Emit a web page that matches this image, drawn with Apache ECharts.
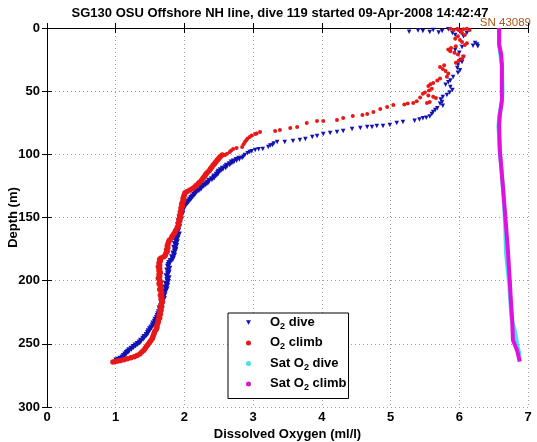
<!DOCTYPE html>
<html>
<head>
<meta charset="utf-8">
<script src="https://cdn.jsdelivr.net/npm/echarts@6/dist/echarts.min.js"></script>
<style>
html,body{margin:0;padding:0;background:#fff;}
#chart{width:537px;height:442px;}
</style>
</head>
<body>
<div id="chart"></div>
<script>
// ---------- data: [O2 (ml/l), depth (m)] ----------
var titleText = 'SG130 OSU Offshore NH line, dive 119 started 09-Apr-2008 14:42:47';
var serialText = 'SN 43089';
var xTicks = [0, 1, 2, 3, 4, 5, 6, 7];
var yTicks = [0, 50, 100, 150, 200, 250, 300];
var seriesNames = ['O2 dive', 'O2 climb', 'Sat O2 dive', 'Sat O2 climb'];

var o2DiveUpper = [[5.27,3.0],[5.40,2.0],[5.47,2.4],[5.57,3.2],[5.62,1.6],[5.70,3.5],[5.75,2.4],[5.84,1.0],[5.90,4.0],[5.94,5.5],[5.98,1.6],[6.01,3.0],[6.11,4.0],[6.06,6.5],[6.23,11.9],[6.26,13.0],[6.27,14.5],[6.20,14.0],[6.04,15.0],[5.94,17.4],[6.00,19.5],[6.06,23.0],[6.02,25.3],[6.04,26.9],[5.98,29.0],[5.97,31.7],[6.01,33.5],[5.98,35.5],[5.91,38.8],[5.87,41.5],[5.84,43.0],[5.80,45.0],[5.87,46.7],[5.90,49.0],[5.86,51.0],[5.82,53.0],[5.76,54.6],[5.73,56.5],[5.75,58.6],[5.72,60.0],[5.76,61.5],[5.68,63.5],[5.65,65.0],[5.62,66.5],[5.60,68.0],[5.57,70.0],[5.52,71.0],[5.47,71.5],[5.42,72.5],[5.35,73.5]];
var o2DiveGradient = [[5.18,74.4],[5.09,75.2],[4.99,76.8],[4.89,77.6],[4.80,77.6],[4.73,78.4],[4.66,78.4],[4.56,79.2],[4.44,80.0],[4.31,81.6],[4.22,82.3],[4.12,83.1],[4.02,83.9],[3.93,85.5],[3.86,86.3],[3.76,87.9],[3.68,88.7],[3.58,89.5],[3.46,90.3],[3.35,90.3],[3.30,91.5],[3.28,92.6],[3.25,93.0],[3.22,94.2],[3.14,95.8],[3.08,96.0],[3.03,96.6],[2.98,97.5],[2.95,98.2],[2.92,99.2],[2.88,100.6],[2.86,101.8],[2.84,102.9]];
var o2DiveDeep = [[2.80,103.5],[2.76,104.5],[2.72,105.6],[2.69,106.5],[2.66,107.8],[2.62,109.0],[2.60,110.2],[2.56,111.5],[2.53,112.6],[2.50,113.8],[2.49,115.0],[2.47,116.2],[2.44,117.5],[2.43,118.6],[2.40,119.8],[2.36,121.0],[2.34,122.4],[2.31,123.6],[2.28,124.8],[2.25,126.0],[2.24,127.2],[2.21,128.4],[2.18,129.5],[2.16,130.8],[2.14,132.0],[2.12,133.4],[2.10,134.6],[2.08,136.0],[2.06,137.3],[2.04,138.6],[2.02,140.0],[2.00,141.3],[1.99,142.7],[1.98,144.0],[1.96,145.5],[1.97,147.0],[1.95,148.4],[1.93,150.0],[1.95,151.5],[1.92,153.0],[1.93,154.6],[1.91,156.0],[1.92,157.6],[1.90,159.0],[1.91,160.5],[1.89,162.0],[1.92,163.5],[1.88,165.0],[1.90,166.5],[1.87,168.0],[1.89,169.5],[1.86,171.0],[1.88,172.5],[1.85,174.0],[1.87,175.5],[1.86,177.0],[1.84,178.5],[1.85,180.0],[1.82,181.5],[1.83,183.0],[1.80,184.5],[1.78,186.0],[1.77,187.5],[1.76,189.0],[1.78,190.5],[1.75,192.0],[1.77,193.5],[1.76,195.0],[1.74,196.5],[1.77,198.0],[1.75,199.5],[1.76,201.0],[1.73,202.5],[1.75,204.0],[1.72,205.5],[1.74,207.0],[1.72,208.5],[1.70,210.0],[1.71,211.5],[1.69,213.0],[1.70,214.5],[1.68,216.0],[1.67,217.5],[1.68,219.0],[1.66,220.5],[1.64,222.0],[1.65,223.5],[1.63,225.0],[1.62,226.5],[1.61,228.0],[1.60,229.5],[1.58,231.0],[1.57,232.5],[1.55,234.0],[1.54,235.5],[1.52,237.0],[1.50,238.5],[1.48,240.0],[1.47,241.5],[1.45,243.0],[1.42,244.5],[1.40,246.0],[1.37,247.5],[1.35,249.0],[1.32,250.2],[1.29,251.4],[1.26,252.6],[1.23,253.8],[1.20,255.0],[1.18,256.2],[1.16,257.3],[1.14,258.5],[1.12,259.7],[1.10,260.8],[1.07,261.8],[1.04,262.6],[1.01,263.2]];

var o2ClimbUpper = [[5.87,0.5],[5.92,1.5],[5.97,0.8],[6.01,2.0],[6.06,1.0],[6.11,0.5],[6.15,1.5],[6.04,4.0],[6.08,5.5],[5.98,6.5],[5.94,8.5],[6.01,9.5],[6.04,11.0],[6.11,12.0],[6.08,13.5],[5.95,14.5],[5.88,15.8],[5.84,17.0],[5.87,18.5],[5.93,19.5],[5.98,21.0],[6.06,22.5],[6.04,24.5],[5.99,26.0],[5.95,27.5],[5.78,29.5],[5.72,30.9],[5.76,32.5],[5.80,34.0],[5.84,36.0],[5.82,38.5],[5.72,40.0],[5.68,41.5],[5.62,43.5],[5.58,44.5],[5.55,46.0],[5.60,48.0],[5.56,49.5],[5.50,51.0],[5.47,52.0],[5.55,53.5],[5.62,54.5],[5.66,55.5],[5.43,55.0],[5.57,58.6],[5.53,59.4],[5.38,58.0],[5.33,59.4],[5.25,59.8],[5.20,60.5]];
var o2ClimbGradient = [[5.04,61.0],[4.95,62.5],[4.85,64.1],[4.75,66.5],[4.66,68.1],[4.59,68.9],[4.45,69.7],[4.31,71.3],[4.22,72.8],[4.02,73.6],[3.93,73.6],[3.78,75.2],[3.64,78.4],[3.54,79.2],[3.39,80.8],[3.32,81.6],[3.10,82.3],[3.05,83.5],[3.03,83.9],[2.98,85.0],[2.95,86.3],[2.92,87.5],[2.90,88.8],[2.88,90.3],[2.86,92.0],[2.84,94.2],[2.76,95.0],[2.71,95.8],[2.68,97.0],[2.66,98.2],[2.62,99.5],[2.59,100.6]];
var o2ClimbDeep = [[2.55,100.5],[2.52,102.0],[2.50,103.3],[2.48,104.5],[2.46,105.8],[2.44,107.2],[2.42,108.5],[2.40,110.0],[2.38,111.5],[2.36,113.0],[2.33,114.5],[2.31,116.0],[2.29,117.5],[2.27,119.0],[2.25,120.5],[2.22,122.0],[2.20,123.3],[2.17,124.6],[2.15,125.8],[2.12,127.0],[2.08,128.2],[2.04,129.4],[2.01,130.5],[2.00,132.0],[1.99,133.5],[1.98,135.0],[1.99,136.5],[1.97,138.0],[1.96,139.5],[1.97,141.0],[1.95,142.5],[1.96,144.0],[1.94,145.5],[1.95,147.0],[1.93,148.5],[1.94,150.0],[1.92,151.5],[1.93,153.0],[1.91,154.5],[1.92,156.0],[1.90,157.5],[1.89,159.0],[1.87,160.5],[1.86,162.0],[1.84,163.5],[1.82,165.0],[1.81,166.5],[1.78,168.0],[1.77,169.5],[1.76,171.0],[1.75,172.5],[1.76,174.0],[1.74,175.5],[1.75,177.0],[1.73,178.5],[1.72,180.0],[1.70,181.0],[1.66,182.0],[1.64,183.0],[1.65,184.5],[1.63,186.0],[1.64,187.5],[1.62,189.0],[1.64,190.5],[1.63,192.0],[1.65,193.5],[1.63,195.0],[1.64,196.5],[1.62,198.0],[1.64,199.5],[1.65,201.0],[1.63,202.5],[1.65,204.0],[1.66,205.5],[1.64,207.0],[1.66,208.5],[1.67,210.0],[1.65,211.5],[1.67,213.0],[1.66,214.5],[1.68,216.0],[1.67,217.5],[1.66,219.0],[1.67,220.5],[1.65,222.0],[1.66,223.5],[1.64,225.0],[1.65,226.5],[1.63,228.0],[1.64,229.5],[1.62,231.0],[1.62,232.5],[1.61,234.0],[1.60,235.5],[1.60,237.0],[1.59,238.5],[1.57,240.0],[1.56,241.5],[1.55,243.0],[1.54,244.5],[1.53,246.0],[1.51,247.5],[1.49,249.0],[1.47,250.5],[1.45,252.0],[1.43,253.5],[1.41,255.0],[1.38,256.5],[1.35,258.0],[1.31,259.2],[1.27,260.2],[1.22,261.0],[1.17,261.8],[1.12,262.5],[1.07,263.1],[1.03,263.6],[0.99,264.0],[0.96,264.4]];

var satO2Dive = [[6.58,0],[6.58,13],[6.60,22],[6.62,30],[6.63,50],[6.62,58],[6.58,70],[6.57,78],[6.59,97],[6.62,116],[6.65,136],[6.67,160],[6.68,178],[6.73,205],[6.76,230],[6.81,240],[6.84,250],[6.87,257],[6.88,264]];
var satO2Climb = [[6.58,0],[6.58,13],[6.61,21],[6.62,29],[6.62,49],[6.62,57],[6.59,69],[6.58,77],[6.59,97],[6.62,116],[6.65,136],[6.68,156],[6.71,178],[6.74,205],[6.75,215],[6.77,231],[6.78,247],[6.84,255],[6.88,264]];

// ---------- chart ----------
var FONT = '"Liberation Sans", Arial, Helvetica, sans-serif';
var chart = echarts.init(document.getElementById('chart'), null, {renderer: 'canvas'});

var legendRich = {
  g: {width: 14},
  n: {fontSize: 13, fontWeight: 'bold', fontFamily: FONT, color: '#000', lineHeight: 14, verticalAlign: 'top'},
  s: {fontSize: 9, fontWeight: 'bold', fontFamily: FONT, color: '#000', lineHeight: 10, padding: [8, 0, 0, 0]}
};
function legendLabel(name) {
  var i = name.indexOf('O2');
  return '{g|}{n|' + name.slice(0, i + 1) + '}{s|2}{n|' + name.slice(i + 2) + '}';
}

var DIVE_COLOR = '#1212b4', CLIMB_COLOR = '#e81818';
function diveSeries(data, size) {
  return {name: seriesNames[0], type: 'scatter', data: data, symbol: 'triangle', symbolRotate: 180,
    symbolSize: size, itemStyle: {color: DIVE_COLOR, opacity: 1}};
}
function climbSeries(data, size) {
  return {name: seriesNames[1], type: 'scatter', data: data, symbol: 'circle',
    symbolSize: size, itemStyle: {color: CLIMB_COLOR, opacity: 1}};
}

var axisLabelStyle = {fontSize: 13, fontWeight: 'bold', color: '#000', fontFamily: FONT};
var option = {
  animation: false,
  backgroundColor: '#fff',
  textStyle: {fontFamily: FONT},
  grid: {left: 47, right: 9, top: 28, bottom: 35, containLabel: false, outerBoundsMode: 'none'},
  xAxis: [{
    type: 'value', min: xTicks[0], max: xTicks[xTicks.length - 1], interval: 1, position: 'bottom',
    axisLine: {show: true, lineStyle: {color: '#000', width: 1}},
    axisTick: {show: true, inside: true, length: 5, lineStyle: {color: '#000'}},
    axisLabel: Object.assign({margin: 4}, axisLabelStyle),
    splitLine: {show: true, lineStyle: {color: '#a0a0a0', type: [1, 3], width: 1}},
    name: 'Dissolved Oxygen (ml/l)', nameLocation: 'middle', nameGap: 21, nameMoveOverlap: false,
    nameTextStyle: axisLabelStyle
  }, {
    type: 'value', min: xTicks[0], max: xTicks[xTicks.length - 1], interval: 1, position: 'top',
    axisLine: {show: true, lineStyle: {color: '#000', width: 1}},
    axisTick: {show: true, inside: true, length: 5, lineStyle: {color: '#000'}},
    axisLabel: {show: false}, splitLine: {show: false}
  }],
  yAxis: [{
    type: 'value', inverse: true, min: yTicks[0], max: yTicks[yTicks.length - 1], interval: 50, position: 'left',
    axisLine: {show: true, lineStyle: {color: '#000', width: 1}},
    axisTick: {show: true, inside: true, length: 5, lineStyle: {color: '#000'}},
    axisLabel: Object.assign({margin: 7}, axisLabelStyle),
    splitLine: {show: true, lineStyle: {color: '#a0a0a0', type: [1, 3], width: 1}},
    name: 'Depth (m)', nameLocation: 'middle', nameGap: 27, nameRotate: 90, nameMoveOverlap: false,
    nameTextStyle: axisLabelStyle
  }, {
    type: 'value', inverse: true, min: yTicks[0], max: yTicks[yTicks.length - 1], interval: 50, position: 'right',
    axisLine: {show: true, lineStyle: {color: '#000', width: 1}},
    axisTick: {show: true, inside: true, length: 5, lineStyle: {color: '#000'}},
    axisLabel: {show: false}, splitLine: {show: false}
  }],
  legend: {
    orient: 'vertical', left: 228, top: 313,
    padding: [1, 2, 6, 18],
    itemGap: 3.5, itemWidth: 5, itemHeight: 5,
    backgroundColor: '#fff', borderColor: '#000', borderWidth: 1, borderRadius: 0,
    data: [
      {name: seriesNames[0], icon: 'path://M0,0L10,0L5,9Z'},
      {name: seriesNames[1], icon: 'circle'},
      {name: seriesNames[2], icon: 'circle'},
      {name: seriesNames[3], icon: 'circle'}
    ],
    formatter: legendLabel,
    textStyle: {rich: legendRich}
  },
  graphic: [{
    type: 'text', x: 280, y: 7,
    style: {text: titleText, fontSize: 13, fontWeight: 'bold', fontFamily: FONT, fill: '#000', textAlign: 'center'}
  }, {
    type: 'text', x: 531, y: 17,
    style: {text: serialText, fontSize: 11.5, fontFamily: FONT, fill: '#a8581c', textAlign: 'right'}
  }],
  series: [
    diveSeries(o2DiveUpper, 4.5),
    diveSeries(o2DiveGradient, 4.5),
    diveSeries(o2DiveDeep, 6),
    climbSeries(o2ClimbUpper, 4),
    climbSeries(o2ClimbGradient, 4),
    climbSeries(o2ClimbDeep, 5.5),
    {
      name: seriesNames[2], type: 'line', data: satO2Dive,
      showSymbol: false, symbol: 'circle', smooth: false,
      lineStyle: {color: '#40e0f0', width: 4},
      itemStyle: {color: '#40e0f0'}
    }, {
      name: seriesNames[3], type: 'line', data: satO2Climb,
      showSymbol: false, symbol: 'circle', smooth: false,
      lineStyle: {color: '#e010e0', width: 4},
      itemStyle: {color: '#e010e0'}
    }
  ]
};
chart.setOption(option);
</script>
</body>
</html>
